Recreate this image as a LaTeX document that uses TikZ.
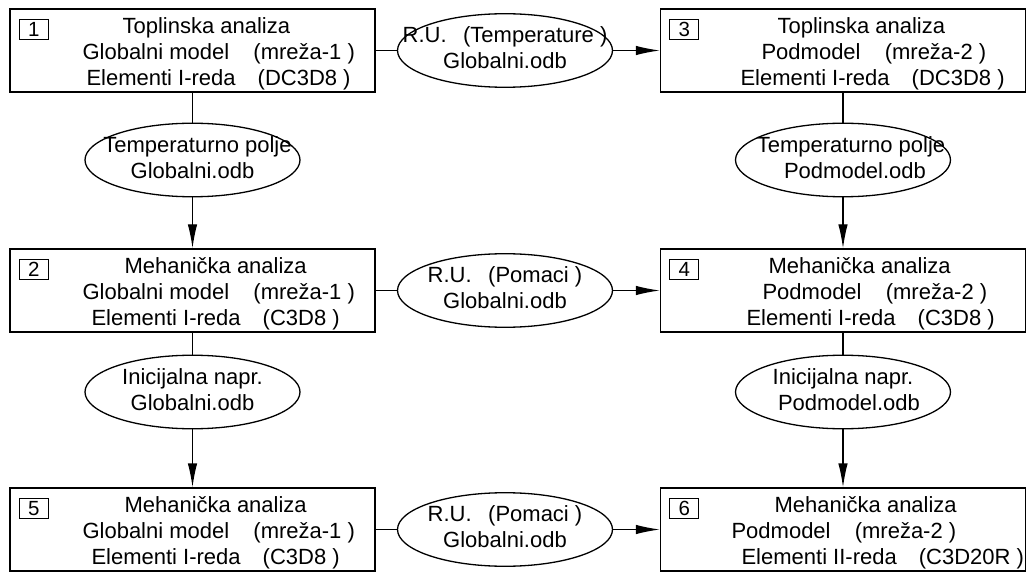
\documentclass[tikz,border=0pt]{standalone}
\usepackage{fontspec}
\setmainfont{Liberation Sans}
\usetikzlibrary{arrows.meta,shapes.geometric}
\newcommand{\ovaltxt}[2]{\makebox[0pt]{\begin{tabular}{@{}c@{}}#1\\#2\end{tabular}}}

\begin{document}
\begin{tikzpicture}[x=1pt,y=-1pt,
  font=\fontsize{22}{26}\selectfont,
  stage/.style={draw,line width=1.3pt,minimum width=365pt,minimum height=83pt,inner sep=0pt},
  nr/.style={draw,line width=1pt,minimum width=29pt,minimum height=20pt,inner sep=0pt,font=\fontsize{20.5}{21}\selectfont},
  txt/.style={anchor=west,align=left,inner sep=0pt},
  oval/.style={draw,ellipse,line width=1.3pt,minimum width=215pt,minimum height=72pt,inner sep=0pt},
  link/.style={line width=1.3pt},
  flow/.style={line width=1.3pt,-{Latex[length=24pt,width=9.5pt]}}]
\useasboundingbox (0,0) rectangle (1026,572);

\node[stage] (b1) at (192.5,50.5) {};
\node[stage] (b2) at (192.5,290.5) {};
\node[stage] (b5) at (192.5,529.5) {};
\node[stage] (b3) at (843,50.5) {};
\node[stage] (b4) at (843,290.5) {};
\node[stage] (b6) at (843,529.5) {};

\node[nr] (n1) at ([shift={(24.5,21)}]b1.north west) {1};
\node[nr] (n2) at ([shift={(24.5,21)}]b2.north west) {2};
\node[nr] (n5) at ([shift={(24.5,21)}]b5.north west) {5};
\node[nr] (n3) at ([shift={(24.5,21)}]b3.north west) {3};
\node[nr] (n4) at ([shift={(24.5,21)}]b4.north west) {4};
\node[nr] (n6) at ([shift={(24.5,21)}]b6.north west) {6};

\node[txt] (t1) at ([shift={(73,3.5)}]b1.west) {\hspace*{40pt}Toplinska analiza\\Globalni model\hspace{1.1em}(mreža-1 )\\\hspace*{4pt}Elementi I-reda\hspace{1em}(DC3D8 )};
\node[txt] (t2) at ([shift={(73,3.5)}]b2.west) {\hspace*{42pt}Mehanička analiza\\Globalni model\hspace{1.1em}(mreža-1 )\\\hspace*{9pt}Elementi I-reda\hspace{1em}(C3D8 )};
\node[txt] (t5) at ([shift={(73,3.5)}]b5.west) {\hspace*{42pt}Mehanička analiza\\Globalni model\hspace{1.1em}(mreža-1 )\\\hspace*{9pt}Elementi I-reda\hspace{1em}(C3D8 )};
\node[txt] (t3) at ([shift={(80.5,3.5)}]b3.west) {\hspace*{37pt}Toplinska analiza\\\hspace*{21pt}Podmodel\hspace{1.1em}(mreža-2 )\\Elementi I-reda\hspace{1em}(DC3D8 )};
\node[txt] (t4) at ([shift={(86.5,3.5)}]b4.west) {\hspace*{22pt}Mehanička analiza\\\hspace*{16pt}Podmodel\hspace{1.1em}(mreža-2 )\\Elementi I-reda\hspace{1em}(C3D8 )};
\node[txt] (t6) at ([shift={(71.5,3.5)}]b6.west) {\hspace*{43pt}Mehanička analiza\\Podmodel\hspace{1.1em}(mreža-2 )\\\hspace*{10pt}Elementi II-reda\hspace{1em}(C3D20R )};

\node[oval] (e13) at (505,50.5) {\ovaltxt{R.U.\hspace{0.75em}(Temperature )}{Globalni.odb}};
\node[oval] (e24) at (505,290.5) {\ovaltxt{R.U.\hspace{0.75em}(Pomaci )}{Globalni.odb}};
\node[oval] (e56) at (505,529.5) {\ovaltxt{R.U.\hspace{0.75em}(Pomaci )}{Globalni.odb}};
\node[oval] (e12) at (192.5,160) {\ovaltxt{\hspace*{10pt}Temperaturno polje}{Globalni.odb}};
\node[oval] (e34) at (843,160) {\ovaltxt{\hspace*{16pt}Temperaturno polje}{\hspace*{24pt}Podmodel.odb}};
\node[oval] (e25) at (192.5,392) {\ovaltxt{Inicijalna napr.}{Globalni.odb}};
\node[oval] (e46) at (843,392) {\ovaltxt{Inicijalna napr.}{\hspace*{12pt}Podmodel.odb}};

\draw[link] (b1) -- (e13);
\draw[flow] (e13) -- (b3);
\draw[link] (b2) -- (e24);
\draw[flow] (e24) -- (b4);
\draw[link] (b5) -- (e56);
\draw[flow] (e56) -- (b6);

\draw[link] (b1) -- (e12);
\draw[flow] (e12) -- (b2);
\draw[link] (b3) -- (e34);
\draw[flow] (e34) -- (b4);
\draw[link] (b2) -- (e25);
\draw[flow] (e25) -- (b5);
\draw[link] (b4) -- (e46);
\draw[flow] (e46) -- (b6);
\end{tikzpicture}
\end{document}
